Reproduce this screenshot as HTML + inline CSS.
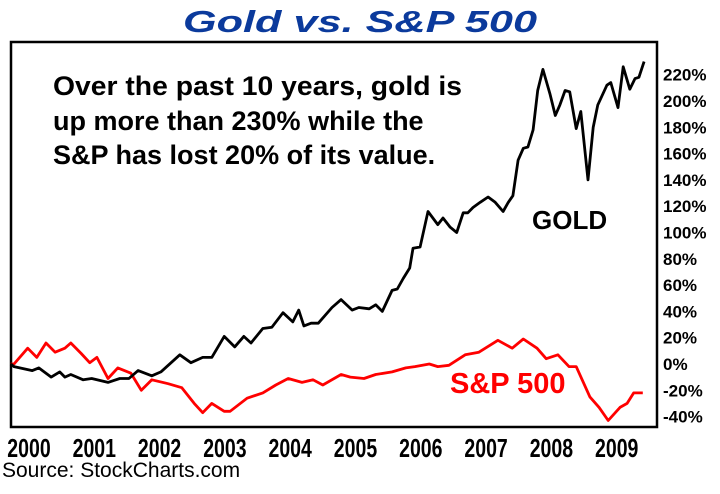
<!DOCTYPE html>
<html><head><meta charset="utf-8"><style>
body{margin:0;background:#fff;width:720px;height:494px;overflow:hidden;font-family:"Liberation Sans",sans-serif}
svg{display:block}
</style></head><body>
<svg width="720" height="494" viewBox="0 0 720 494">
<text x="183" y="32" textLength="354" lengthAdjust="spacingAndGlyphs" font-size="31" font-weight="bold" font-style="italic" fill="#0b3a9c">Gold vs. S&amp;P 500</text>
<rect x="11" y="42" width="646" height="385" fill="none" stroke="#000" stroke-width="2.5"/>
<g font-size="27" font-weight="bold" fill="#000">
<text x="53" y="95" textLength="409" lengthAdjust="spacingAndGlyphs">Over the past 10 years, gold is</text>
<text x="53" y="130">up more than 230% while the</text>
<text x="53" y="164">S&amp;P has lost 20% of its value.</text>
</g>
<g id="yaxis"></g>
<g id="xaxis"></g>
<g id="series"></g>
<text x="532" y="229" font-size="26" font-weight="bold" fill="#000">GOLD</text>
<text x="450" y="393" font-size="29" font-weight="bold" fill="#f00">S&amp;P 500</text>
<text x="2" y="477" font-size="21" fill="#000">Source: StockCharts.com</text>
</svg>
<script>
const yearLabels=["2000","2001","2002","2003","2004","2005","2006","2007","2008","2009"];
const yTicks=[220,200,180,160,140,120,100,80,60,40,20,0,-20,-40];
const goldDates=[1999.72,1999.77,2000.05,2000.15,2000.34,2000.47,2000.55,2000.64,2000.83,2000.96,2001.21,2001.39,2001.53,2001.67,2001.88,2002.02,2002.31,2002.48,2002.66,2002.80,2002.99,2003.15,2003.29,2003.40,2003.58,2003.72,2003.89,2004.04,2004.13,2004.21,2004.32,2004.43,2004.64,2004.78,2004.95,2005.05,2005.21,2005.31,2005.41,2005.56,2005.64,2005.73,2005.83,2005.88,2005.99,2006.11,2006.26,2006.34,2006.45,2006.55,2006.65,2006.72,2006.80,2006.91,2007.03,2007.14,2007.26,2007.34,2007.41,2007.49,2007.57,2007.64,2007.72,2007.79,2007.87,2007.98,2008.06,2008.13,2008.21,2008.28,2008.38,2008.45,2008.56,2008.64,2008.71,2008.85,2008.91,2009.02,2009.10,2009.20,2009.28,2009.34,2009.42];
const goldValues=[0,-2,-5,-3,-10,-6,-10,-8,-12,-11,-14,-11,-11,-5,-9,-6,7,1,5,5,21,13,21,16,27,28,39,32,41,29,31,31,43,49,41,43,42,45,40,56,57,65,73,88,89,116,106,111,104,100,115,115,119,123,127,123,116,123,128,155,164,165,178,208,224,205,189,197,208,207,179,192,140,180,197,212,214,195,226,209,217,218,230];
const spDates=[1999.72,1999.77,1999.98,2000.12,2000.26,2000.40,2000.55,2000.64,2000.80,2000.93,2001.04,2001.21,2001.36,2001.56,2001.72,2001.88,2002.13,2002.34,2002.53,2002.66,2002.80,2002.99,2003.08,2003.34,2003.58,2003.78,2003.97,2004.18,2004.35,2004.50,2004.78,2004.92,2005.13,2005.31,2005.56,2005.77,2005.91,2006.13,2006.26,2006.43,2006.68,2006.89,2007.18,2007.40,2007.57,2007.78,2007.92,2008.10,2008.27,2008.38,2008.59,2008.73,2008.87,2009.05,2009.16,2009.26,2009.40];
const spValues=[0,0,12,5,16,9,12,16,8,1,5,-11,-3,-7,-20,-12,-15,-18,-30,-37,-30,-36,-36,-26,-22,-16,-11,-14,-12,-16,-8,-10,-11,-8,-6,-3,-2,0,-2,-1,7,9,18,12,19,12,4,7,-2,-2,-25,-33,-43,-33,-30,-22,-22];
const NS="http://www.w3.org/2000/svg";
const xScale=yr=>29+(yr-2000)*65.3;
const yScale=v=>364-v*1.315;
const xa=document.getElementById('xaxis'),ya=document.getElementById('yaxis'),sg=document.getElementById('series');
yearLabels.forEach((l,i)=>{
 const t=document.createElementNS(NS,'text');
 
 
 const cx=xScale(2000+i);
 t.setAttribute('x',cx);t.setAttribute('y',457);
 t.setAttribute('text-anchor','middle');t.setAttribute('font-size','26');t.setAttribute('font-weight','bold');
 t.setAttribute('transform','translate('+cx+',0) scale(0.75,1) translate('+(-cx)+',0)');
 t.textContent=l;xa.appendChild(t);
});
yTicks.forEach(v=>{
 const t=document.createElementNS(NS,'text');
 
 
 t.setAttribute('x',663);t.setAttribute('y',yScale(v)+6);
 t.setAttribute('font-size','17');t.setAttribute('font-weight','bold');
 t.textContent=v+'%';ya.appendChild(t);
});
function line(d,v,c){
 const p=document.createElementNS(NS,'path');
 p.setAttribute('d',d.map((x,i)=>(i?'L':'M')+xScale(x).toFixed(1)+','+yScale(v[i]).toFixed(1)).join(''));
 p.setAttribute('fill','none');p.setAttribute('stroke',c);p.setAttribute('stroke-width','2.8');p.setAttribute('stroke-linejoin','round');
 return p;
}
const sp=line(spDates,spValues,'#f00');


sg.appendChild(sp);
const gd=line(goldDates,goldValues,'#000');


sg.appendChild(gd);
</script>
</body></html>
